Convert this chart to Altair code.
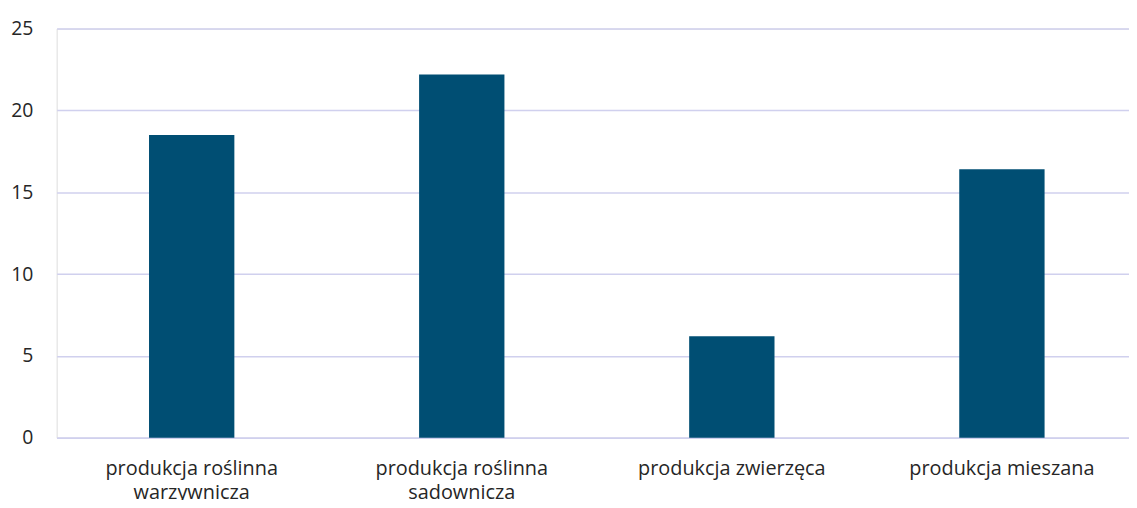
import altair as alt
import pandas as pd

categories = [
    "produkcja roślinna\nwarzywnicza",
    "produkcja roślinna\nsadownicza",
    "produkcja zwierzęca",
    "produkcja mieszana",
]
values = [18.5, 22.2, 6.2, 16.4]

df = pd.DataFrame({"kategoria": categories, "wartosc": values})

FONT = "Open Sans"

chart = (
    alt.Chart(df)
    .mark_bar(color="#004E73")
    .encode(
        x=alt.X(
            "kategoria:N",
            sort=categories,
            title=None,
            scale=alt.Scale(paddingInner=0.684, paddingOuter=0.342),
            axis=alt.Axis(
                labelAngle=0,
                labelExpr="split(datum.label, '\\n')",
                labelFont=FONT,
                labelFontSize=20,
                labelColor="#262626",
                labelPadding=21,
                labelLineHeight=24,
                labelLimit=400,
                ticks=False,
                domain=True,
                domainColor="#D0D0EE",
                domainWidth=1.5,
            ),
        ),
        y=alt.Y(
            "wartosc:Q",
            title=None,
            scale=alt.Scale(domain=[0, 25]),
            axis=alt.Axis(
                values=[0, 5, 10, 15, 20, 25],
                labelFont=FONT,
                labelFontSize=19.5,
                labelColor="#262626",
                labelPadding=24,
                ticks=False,
                domain=False,
                grid=True,
                gridColor="#D0D0EE",
                gridWidth=1.5,
            ),
        ),
    )
    .properties(
        width=1088,
        height=412,
        autosize=alt.AutoSizeParams(type="none"),
        padding={"left": 49, "top": 19, "right": -8, "bottom": 61},
    )
    .configure_view(stroke=None)
    .configure(background="white")
)

chart.save("out.html", embed_options={"renderer": "svg", "actions": False})
